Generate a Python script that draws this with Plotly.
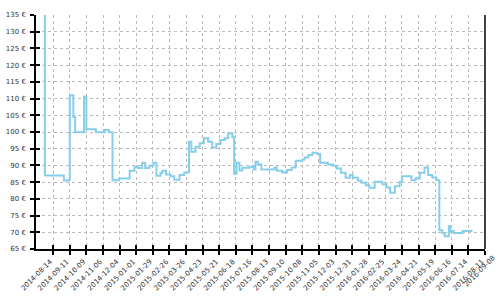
import plotly.graph_objects as go
from datetime import date

dates = [
    "2014-07-20", "2014-07-31", "2014-09-01", "2014-09-11", "2014-09-17", "2014-09-20",
    "2014-10-05", "2014-10-09", "2014-10-25", "2014-11-09", "2014-11-16", "2014-11-22",
    "2014-12-03", "2014-12-21", "2014-12-29", "2015-01-04", "2015-01-11", "2015-01-16",
    "2015-01-23", "2015-01-30", "2015-02-04", "2015-02-11", "2015-02-14", "2015-02-20",
    "2015-02-28", "2015-03-06", "2015-03-15", "2015-03-23", "2015-03-31", "2015-04-04",
    "2015-04-11", "2015-04-18", "2015-04-25", "2015-05-02", "2015-05-09", "2015-05-16",
    "2015-05-23", "2015-05-30", "2015-06-05", "2015-06-12", "2015-06-15", "2015-06-19",
    "2015-06-24", "2015-06-29", "2015-07-11", "2015-07-18", "2015-07-21", "2015-07-25",
    "2015-07-31", "2015-08-22", "2015-08-26", "2015-09-04", "2015-09-12", "2015-09-20",
    "2015-09-27", "2015-10-08", "2015-10-12", "2015-10-18", "2015-10-25", "2015-11-02",
    "2015-11-07", "2015-11-20", "2015-11-29", "2015-12-05", "2015-12-12", "2015-12-20",
    "2015-12-27", "2016-01-01", "2016-01-10", "2016-01-16", "2016-01-23", "2016-01-29",
    "2016-02-07", "2016-02-20", "2016-02-27", "2016-03-04", "2016-03-12", "2016-03-20",
    "2016-03-24", "2016-04-09", "2016-04-16", "2016-04-23", "2016-05-01", "2016-05-07",
    "2016-05-14", "2016-05-21", "2016-05-26", "2016-05-31", "2016-06-04", "2016-06-11",
    "2016-06-13", "2016-06-19", "2016-07-04", "2016-07-21",
]
prices = [
    139.0, 87.0, 85.5, 111.0, 104.5, 99.9,
    110.6, 100.8, 99.9, 100.6, 99.9, 85.6,
    86.1, 88.4, 89.6, 89.2, 90.8, 89.2,
    89.9, 90.8, 86.9, 87.7, 88.4, 87.3,
    86.8, 85.7, 87.1, 87.9, 97.1, 94.1,
    95.6, 96.6, 98.1, 97.1, 95.4, 96.4,
    97.6, 98.1, 99.6, 98.4, 87.5, 90.8,
    88.5, 89.3, 89.6, 88.8, 91.1, 90.3,
    88.8, 89.4, 88.4, 87.9, 88.6, 89.4,
    91.4, 91.8, 92.4, 93.1, 93.8, 93.4,
    90.8, 90.3, 89.9, 89.1, 87.8, 86.3,
    87.1, 86.3, 85.4, 84.8, 84.1, 83.3,
    85.1, 84.4, 83.4, 81.8, 83.8, 85.1,
    86.8, 85.6, 86.2, 87.8, 89.4, 87.1,
    86.4, 85.6, 70.6, 69.8, 68.8, 71.8,
    70.4, 69.8, 70.4, 70.4,
]

tick_dates = [
    "2014-08-14", "2014-09-11", "2014-10-09", "2014-11-06", "2014-12-04", "2015-01-01",
    "2015-01-29", "2015-02-26", "2015-03-26", "2015-04-23", "2015-05-21", "2015-06-18",
    "2015-07-16", "2015-08-13", "2015-09-10", "2015-10-08", "2015-11-05", "2015-12-03",
    "2015-12-31", "2016-01-28", "2016-02-25", "2016-03-24", "2016-04-21", "2016-05-19",
    "2016-06-16", "2016-07-14", "2016-08-11",
]
extra_tick = "2016-09-08"
y_ticks = [65, 70, 75, 80, 85, 90, 95, 100, 105, 110, 115, 120, 125, 130, 135]
y_labels = [f"{v} €" for v in y_ticks]

x_range = ["2014-07-16", "2016-08-11"]
y_range = [65, 135]

font = dict(family="DejaVu Sans", size=7, color="#333333")
grid = dict(showgrid=True, gridcolor="#bbbbbb", gridwidth=1, griddash="3px,3px")

fig = go.Figure()
fig.add_trace(go.Scatter(
    x=dates, y=prices, mode="lines", line=dict(color="#87ceeb", width=2, shape="hv"),
    hoverinfo="skip", showlegend=False,
))
fig.add_trace(go.Scatter(x=[], y=[], xaxis="x2", yaxis="y2", showlegend=False, hoverinfo="skip"))

fig.update_layout(
    width=500, height=300,
    margin=dict(l=36, r=15, t=15, b=51),
    paper_bgcolor="white", plot_bgcolor="white",
    xaxis=dict(
        type="date", range=x_range, tickmode="array", tickvals=tick_dates, ticktext=tick_dates,
        tickangle=-45, tickfont=font, ticks="outside", ticklen=4, tickcolor="black", tickwidth=1.5,
        ticklabelshift=-3,
        showline=True, linecolor="black", linewidth=1.5, zeroline=False, automargin=False, **grid,
    ),
    yaxis=dict(
        range=y_range, tickmode="array", tickvals=y_ticks, ticktext=y_labels, tickfont=font,
        ticks="outside", ticklen=4, tickcolor="black", tickwidth=1.5, ticklabelstandoff=3,
        showline=True, linecolor="black", linewidth=1.5, zeroline=False, automargin=False, **grid,
    ),
    xaxis2=dict(
        type="date", range=x_range, overlaying="x", anchor="y2", side="bottom",
        tickmode="array", tickvals=tick_dates, ticks="inside", ticklen=4, tickcolor="black",
        tickwidth=1.5, showticklabels=False, showgrid=False, showline=False, zeroline=False,
        automargin=False,
    ),
    yaxis2=dict(
        range=y_range, overlaying="y", anchor="x2", side="left",
        tickmode="array", tickvals=y_ticks, ticks="inside", ticklen=4, tickcolor="black",
        tickwidth=1.5, showticklabels=False, showgrid=False, showline=False, zeroline=False,
        automargin=False,
    ),
    shapes=[dict(type="line", xref="paper", yref="paper", x0=1, x1=1, y0=0, y1=1,
                 line=dict(color="black", width=1.5))],
)

d0 = date.fromisoformat(x_range[0])
d1 = date.fromisoformat(x_range[1])
dx = date.fromisoformat(extra_tick)
xpos = (dx - d0).days / (d1 - d0).days
fig.add_annotation(
    x=xpos, y=0, xref="paper", yref="paper", text=extra_tick, showarrow=False,
    textangle=-45, xanchor="right", yanchor="top", font=font, xshift=-3, yshift=-3,
    borderpad=0,
)

fig.write_html("out.html")
